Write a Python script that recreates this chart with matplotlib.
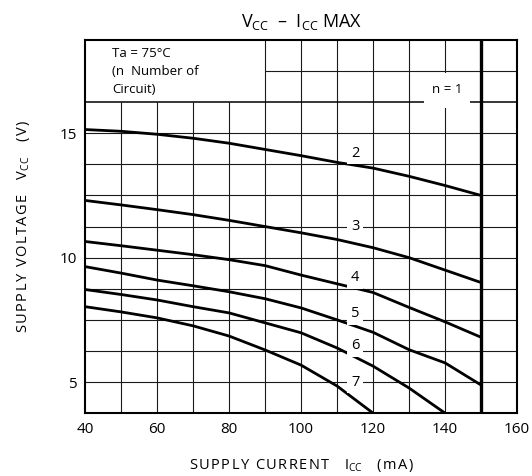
import matplotlib
matplotlib.use('Agg')
import matplotlib.pyplot as plt
from matplotlib.patches import Rectangle

plt.rcParams['font.family'] = ['Open Sans', 'DejaVu Sans']
plt.rcParams['mathtext.fontset'] = 'custom'
plt.rcParams['mathtext.rm'] = 'Open Sans'
plt.rcParams['mathtext.it'] = 'Open Sans'

# supply current (mA) sample points
icc = [40, 50, 60, 70, 80, 90, 100, 110, 120, 130, 140, 150]

# supply voltage (V) per number of circuits n
vcc_n2 = [15.15, 15.08, 14.96, 14.8, 14.6, 14.35, 14.1, 13.83, 13.6, 13.27, 12.9, 12.5]
vcc_n3 = [12.3, 12.12, 11.93, 11.73, 11.5, 11.25, 11.0, 10.73, 10.4, 10.0, 9.5, 9.0]
vcc_n4 = [10.65, 10.48, 10.3, 10.12, 9.92, 9.68, 9.3, 8.95, 8.6, 8.0, 7.42, 6.8]
vcc_n5 = [9.64, 9.38, 9.1, 8.87, 8.63, 8.35, 7.98, 7.5, 7.0, 6.3, 5.77, 4.88]
icc_n6 = [40, 50, 60, 70, 80, 90, 100, 110, 120, 130, 140]
vcc_n6 = [8.72, 8.52, 8.3, 8.03, 7.78, 7.38, 6.98, 6.37, 5.64, 4.76, 3.75]
icc_n7 = [40, 50, 60, 70, 80, 90, 100, 110, 120]
vcc_n7 = [8.03, 7.82, 7.58, 7.26, 6.85, 6.29, 5.68, 4.84, 3.75]

curves = [(icc, vcc_n2, '2', 14.2), (icc, vcc_n3, '3', 11.25), (icc, vcc_n4, '4', 9.2),
          (icc, vcc_n5, '5', 7.75), (icc_n6, vcc_n6, '6', 6.45), (icc_n7, vcc_n7, '7', 5.0)]
icc_max = 150


def track(s):
    # the datasheet letters are a little spread out
    return '\u200a'.join(s)


fig = plt.figure(figsize=(5.32, 4.76), dpi=100)
ax = fig.add_axes([0.160, 0.132, 0.812, 0.784])
ax.set_xlim(40, 160)
ax.set_ylim(3.75, 18.75)

# grid, drawn by hand because the note box in the top-left corner has none
gc = '#1a1a1a'
for x in range(50, 160, 10):
    top = 18.75 if x >= 90 else 16.25
    ax.vlines(x, 3.75, top, color=gc, lw=0.8, zorder=1)
y = 5.0
while y < 18.7:
    if y == 17.5:
        ax.hlines(y, 90, 160, color=gc, lw=0.8, zorder=1)
    elif y == 16.25:
        ax.hlines(y, 40, 160, color='black', lw=1.1, zorder=1)
    else:
        ax.hlines(y, 40, 160, color=gc, lw=0.8, zorder=1)
    y += 1.25

# n = 1 limit line
ax.vlines(icc_max, 3.75, 18.75, color='black', lw=2.4, zorder=3)

for xs, ys, lab, ly in curves:
    ax.plot(xs, ys, color='black', lw=2.0, zorder=3)
    ax.text(115, ly, lab, ha='center', va='center', fontsize=10.5, zorder=4,
            bbox=dict(boxstyle='square,pad=0.25', fc='white', ec='none'))

ax.add_patch(Rectangle((134, 16.0), 13, 1.42, fc='white', ec='none', zorder=2))
ax.text(140.5, 16.75, 'n = 1', ha='center', va='center', fontsize=9.5, zorder=4)

ax.text(47.5, 18.2, 'Ta = 75°C', ha='left', va='center', fontsize=9.5)
ax.text(47.5, 17.47, '(n  Number of', ha='left', va='center', fontsize=9.5)
ax.text(47.5, 16.74, 'Circuit)', ha='left', va='center', fontsize=9.5)

ax.set_xticks([40, 60, 80, 100, 120, 140, 160])
ax.set_yticks([5, 10, 15])
ax.tick_params(length=0, labelsize=11, pad=6)
for s in ax.spines.values():
    s.set_linewidth(1.5)

ax.set_title(r'$\mathregular{V_{CC}}$  –  $\mathregular{I_{CC}}$ MAX', fontsize=13, pad=9)
ax.set_xlabel(track('SUPPLY CURRENT') + '    ' + r'$\mathregular{I_{CC}}$' + '    ' + track('(mA)'),
              fontsize=10.5, labelpad=15)
ax.set_ylabel(track('SUPPLY VOLTAGE') + '    ' + r'$\mathregular{V_{CC}}$' + '    ' + track('(V)'),
              fontsize=10.5, labelpad=20)

fig.savefig('out.png', dpi=100)
